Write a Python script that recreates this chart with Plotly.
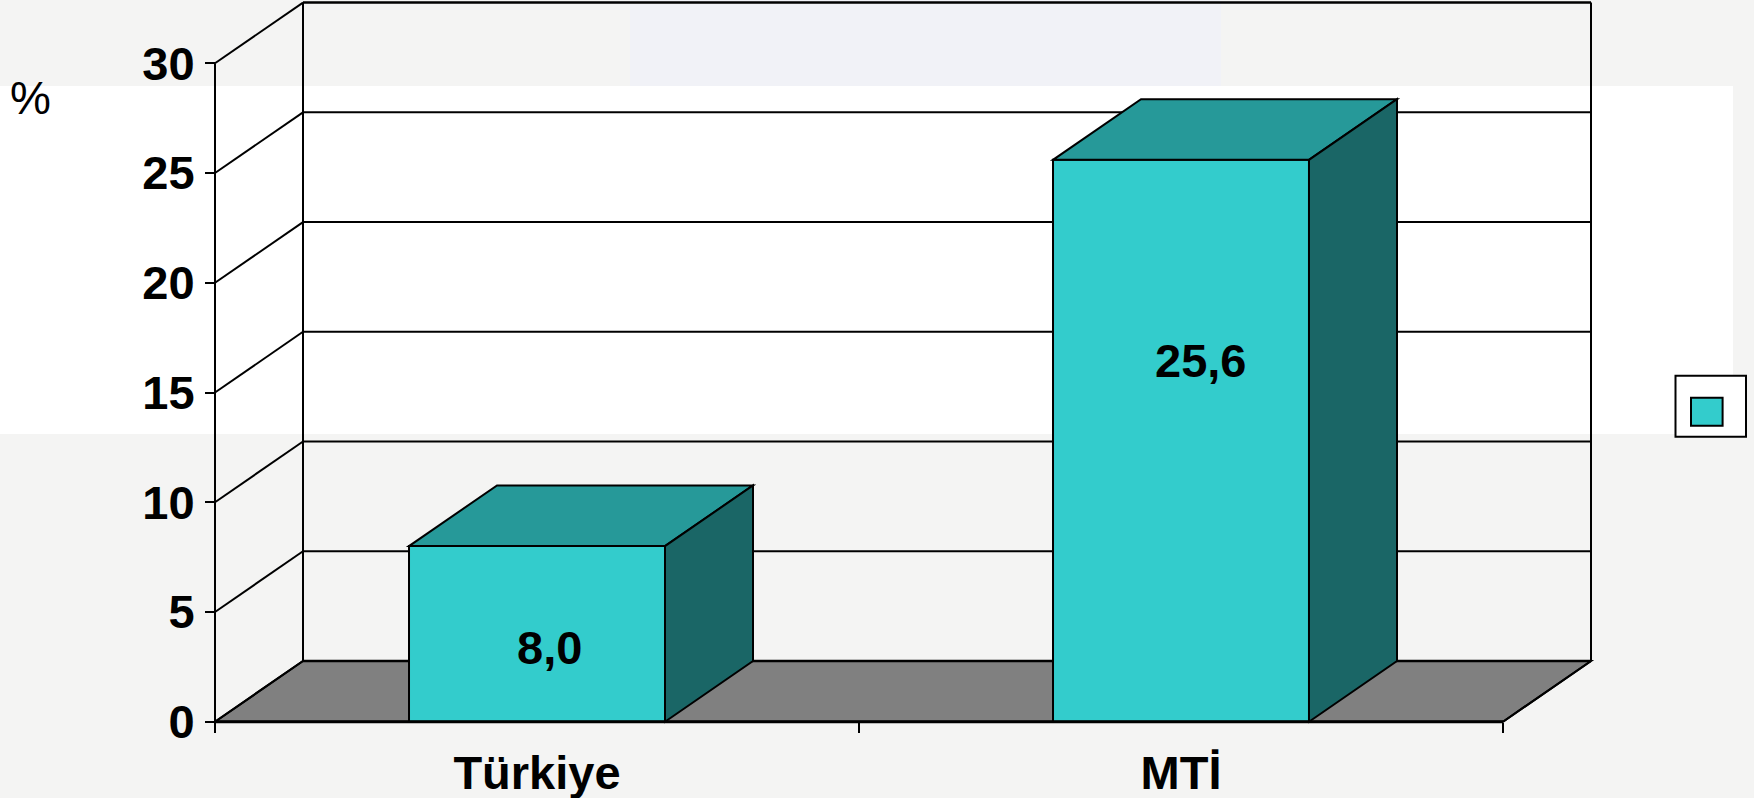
import plotly.graph_objects as go

categories = ["Türkiye", "MTİ"]
values = [8.0, 25.6]
value_labels = ["8,0", "25,6"]
label_heights = [3.36, 16.48]
label_shift = [0.019, 0.031]
y_ticks = [0, 5, 10, 15, 20, 25, 30]

W, H = 1754, 798
PX_X0, PX_CAT = 537.0, 644.0     # pixel of category 0, pixels per category
PX_Y0, PX_UNIT = 721.7, 21.947   # pixel of value 0, pixels per unit
DX = 88 / PX_CAT                 # 3D depth in category units
DY = 60.7 / PX_UNIT              # 3D depth in value units
BAR_W = 0.3975
X_L, X_R = -0.5, 1.5
Y_MAX = 30

FRONT, TOP, SIDE = "#33CCCC", "#269999", "#1A6666"
FLOOR = "#808080"
BG = "#F4F4F3"
FONT = "Liberation Sans"
LW = 2

def poly(points, fill, width=LW):
    path = "M " + " L ".join(f"{x:.5f},{y:.5f}" for x, y in points) + " Z"
    return dict(type="path", xref="x", yref="y", path=path, fillcolor=fill,
                line=dict(color="black", width=width), layer="above")

def seg(x0, y0, x1, y1, width=LW, layer="below"):
    return dict(type="line", xref="x", yref="y", x0=x0, y0=y0, x1=x1, y1=y1,
                line=dict(color="black", width=width), layer=layer)

def page_rect(x0, y0, x1, y1, color):
    return dict(type="rect", xref="paper", yref="paper", x0=x0 / W, x1=x1 / W,
                y0=1 - y1 / H, y1=1 - y0 / H, fillcolor=color,
                line=dict(width=0), layer="below")

shapes = [
    page_rect(0, 86, 1733, 434, "#FFFFFF"),
    page_rect(630, 0, 1221, 86, "#F1F2F7"),
]

# floor
floor = poly([(X_L, 0), (X_R, 0), (X_R + DX, DY), (X_L + DX, DY)], FLOOR, LW)
floor["layer"] = "below"
shapes.append(floor)

# walls and gridlines
for v in y_ticks:
    shapes.append(seg(X_L, v, X_L + DX, v + DY))
    shapes.append(seg(X_L + DX, v + DY, X_R + DX, v + DY, 2.5 if v in (0, Y_MAX) else LW))
shapes.append(seg(X_L + DX, DY, X_L + DX, Y_MAX + DY))
shapes.append(seg(X_R + DX, DY, X_R + DX, Y_MAX + DY))
shapes.append(seg(X_R, 0, X_R + DX, DY))
shapes.append(seg(X_L, 0, X_L, Y_MAX, 2))
shapes.append(seg(X_L, 0, X_R, 0, 3, "above"))

# bar top and side faces
for i, v in enumerate(values):
    l, r = i - BAR_W / 2, i + BAR_W / 2
    shapes.append(poly([(l, v), (r, v), (r + DX, v + DY), (l + DX, v + DY)], TOP))
    shapes.append(poly([(r, 0), (r + DX, DY), (r + DX, v + DY), (r, v)], SIDE))

# legend box
shapes.append(dict(type="rect", xref="paper", yref="paper", x0=1675.5 / W, x1=1746 / W,
                   y0=1 - 436.7 / H, y1=1 - 375.7 / H, fillcolor="#FFFFFF",
                   line=dict(color="black", width=LW), layer="above"))
shapes.append(dict(type="rect", xref="paper", yref="paper", x0=1691 / W, x1=1722.6 / W,
                   y0=1 - 425.7 / H, y1=1 - 397.7 / H, fillcolor=FRONT,
                   line=dict(color="black", width=LW), layer="above"))

fig = go.Figure(go.Bar(
    x=categories, y=values, width=BAR_W, marker=dict(color=FRONT, line=dict(color="black", width=LW)),
    showlegend=False, hoverinfo="x+y",
))

tickfont = dict(family=FONT, size=47, color="black", weight="bold")
annotations = [
    dict(x=i + label_shift[i], y=label_heights[i], xref="x", yref="y", text=value_labels[i],
         showarrow=False, font=tickfont, xanchor="center", yanchor="middle")
    for i in range(len(values))
]
annotations.append(dict(x=30 / W, y=1 - 98 / H, xref="paper", yref="paper", text="%", showarrow=False,
                        font=dict(family=FONT, size=46, color="black"),
                        xanchor="center", yanchor="middle"))

fig.update_layout(
    width=W, height=H, autosize=False,
    margin=dict(l=0, r=0, t=0, b=0, pad=0),
    paper_bgcolor=BG, plot_bgcolor="rgba(0,0,0,0)",
    shapes=shapes, annotations=annotations,
    xaxis=dict(type="category", categoryorder="array", categoryarray=categories,
               range=[(0 - PX_X0) / PX_CAT, (W - PX_X0) / PX_CAT],
               anchor="free", position=1 - PX_Y0 / H, tickson="boundaries",
               ticks="outside", ticklen=10, tickwidth=LW, tickcolor="black",
               ticklabelstandoff=19, showline=False, showgrid=False, zeroline=False,
               tickfont=tickfont, fixedrange=True),
    yaxis=dict(range=[(PX_Y0 - H) / PX_UNIT, PX_Y0 / PX_UNIT],
               anchor="free", position=(PX_X0 - 0.5 * PX_CAT) / W,
               tickmode="array", tickvals=y_ticks, ticktext=[str(t) for t in y_ticks],
               ticks="outside", ticklen=10, tickwidth=LW, tickcolor="black",
               ticklabelstandoff=1, showline=False, showgrid=False, zeroline=False,
               tickfont=tickfont, fixedrange=True),
)
fig.write_html("out.html", config=dict(displayModeBar=False),
               post_script="document.body.style.margin='0';document.documentElement.style.background='#F4F4F3';document.documentElement.style.overflow='hidden';")
